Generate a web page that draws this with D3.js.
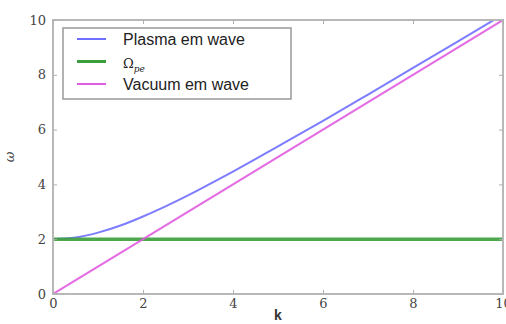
<!DOCTYPE html>
<html>
<head>
<meta charset="utf-8">
<script src="https://cdn.jsdelivr.net/npm/d3@7"></script>
<style>
  body { margin: 0; background: #fff; }
  svg { display: block; }
</style>
</head>
<body>
<div id="chart"></div>
<script>
// values
var plasmaK = [0, 0, 0.5, 1, 1.5, 2, 2.5, 3, 3.5, 4, 5, 6, 7, 8, 9, 10]
var plasmaW = [0, 2, 2.06, 2.24, 2.5, 2.83, 3.2, 3.6, 4.03, 4.47, 5.39, 6.32, 7.28, 8.25, 9.22, 10.2]
var omegaK = [0, 10]
var omegaW = [2, 2]
var vacK = [0, 10]
var vacW = [0, 10]
var xTicks = [0, 2, 4, 6, 8, 10]
var yTicks = [0, 2, 4, 6, 8, 10]
var legendNames = ["Plasma em wave", "Ω_pe", "Vacuum em wave"]

var width = 506, height = 324
var margin = {top: 20, right: 3, bottom: 30, left: 53}
var iw = width - margin.left - margin.right
var ih = height - margin.top - margin.bottom

var svg = d3.select("#chart").append("svg")
	.attr("width", width)
	.attr("height", height)

var g = svg.append("g")
	.attr("transform", "translate(" + margin.left + "," + margin.top + ")")

var xScale = d3.scaleLinear().domain([0, 10]).range([0, iw])
var yScale = d3.scaleLinear().domain([0, 10]).range([ih, 0])

var colors = ["#6f6fff", "#3a9e3a", "#e05ce0"]

var line = d3.line()
	.x(function(d){ return xScale(d[0]) })
	.y(function(d){ return yScale(d[1]) })
var smooth = d3.line()
	.x(function(d){ return xScale(d[0]) })
	.y(function(d){ return yScale(d[1]) })
	.curve(d3.curveMonotoneX)

var plasmaPts = d3.zip(plasmaK, plasmaW)

var clip = svg.append("clipPath").attr("id", "clip")
	.append("rect").attr("width", iw).attr("height", ih)

var plot = g.append("g").attr("clip-path", "url(#clip)")

// the vertical start of the plasma curve at k = 0, then the smooth branch
plot.append("path")
	.attr("d", line(plasmaPts.slice(0, 2)))
	.attr("fill", "none")
	.attr("stroke", colors[0])
	.attr("stroke-width", 2)
	.attr("stroke-opacity", 0.8)
plot.append("path")
	.attr("d", smooth(plasmaPts.slice(1)))
	.attr("fill", "none")
	.attr("stroke", colors[0])
	.attr("stroke-width", 2)
	.attr("stroke-opacity", 0.9)

plot.append("path")
	.attr("d", line(d3.zip(omegaK, omegaW)))
	.attr("fill", "none")
	.attr("stroke", colors[1])
	.attr("stroke-width", 3.5)
	.attr("stroke-opacity", 0.9)

plot.append("path")
	.attr("d", line(d3.zip(vacK, vacW)))
	.attr("fill", "none")
	.attr("stroke", colors[2])
	.attr("stroke-width", 2)
	.attr("stroke-opacity", 0.9)

// frame
g.append("rect")
	.attr("width", iw).attr("height", ih)
	.attr("fill", "none")
	.attr("stroke", "#b8b8b8")
	.attr("stroke-width", 2)

var tickFont = "'DejaVu Serif', 'Liberation Serif', serif"

// axes with inward ticks
var xAxis = g.append("g")
	.attr("transform", "translate(0," + ih + ")")
	.call(d3.axisBottom(xScale).tickValues(xTicks).tickSize(-4).tickPadding(5))
var xTop = g.append("g")
	.call(d3.axisTop(xScale).tickValues(xTicks).tickSize(-4).tickFormat(""))
var yAxis = g.append("g")
	.call(d3.axisLeft(yScale).tickValues(yTicks).tickSize(-4).tickPadding(7))
var yRight = g.append("g")
	.attr("transform", "translate(" + iw + ",0)")
	.call(d3.axisRight(yScale).tickValues(yTicks).tickSize(-4).tickFormat(""))

;[xAxis, xTop, yAxis, yRight].forEach(function(ax){
	ax.select(".domain").remove()
	ax.selectAll(".tick line").attr("stroke", "#b0b0b0")
	ax.selectAll("text")
		.attr("fill", "#444")
		.style("font-family", tickFont)
		.style("font-size", "13px")
})

// axis labels
svg.append("text")
	.attr("x", margin.left + iw / 2)
	.attr("y", 320)
	.attr("text-anchor", "middle")
	.style("font-family", "'Liberation Sans', Arial, sans-serif")
	.style("font-weight", "bold")
	.style("font-size", "14px")
	.attr("fill", "#333")
	.text("k")

svg.append("text")
	.attr("transform", "translate(14," + (margin.top + ih / 2) + ") rotate(-90)")
	.attr("text-anchor", "middle")
	.style("font-family", tickFont)
	.style("font-style", "italic")
	.style("font-size", "13px")
	.attr("fill", "#333")
	.text("ω")

// legend
var legend = svg.append("g").attr("transform", "translate(63,28)")
legend.append("rect")
	.attr("width", 228).attr("height", 71)
	.attr("fill", "#fff")
	.attr("stroke", "#999")
	.attr("stroke-width", 1.5)

var rows = legend.selectAll(".row")
	.data(legendNames)
	.enter()
	.append("g")
	.attr("class", "row")
	.attr("transform", function(d, i){ return "translate(0," + (11 + i * 22.5) + ")" })

rows.append("line")
	.attr("x1", 14).attr("x2", 43)
	.attr("stroke", function(d, i){ return colors[i] })
	.attr("stroke-width", function(d, i){ return i == 1 ? 3 : 2 })

rows.each(function(d, i){
	var t = d3.select(this).append("text")
		.attr("x", 60).attr("y", 6)
		.attr("fill", "#222")
	if(i == 1){
		t.style("font-family", tickFont).style("font-size", "13px")
		t.append("tspan").text("Ω")
		t.append("tspan").attr("dy", 4).style("font-size", "9px").style("font-style", "italic").text("pe")
	}else{
		t.style("font-family", "'Liberation Sans', Arial, sans-serif").style("font-size", "16px").text(d)
	}
})
</script>
</body>
</html>
